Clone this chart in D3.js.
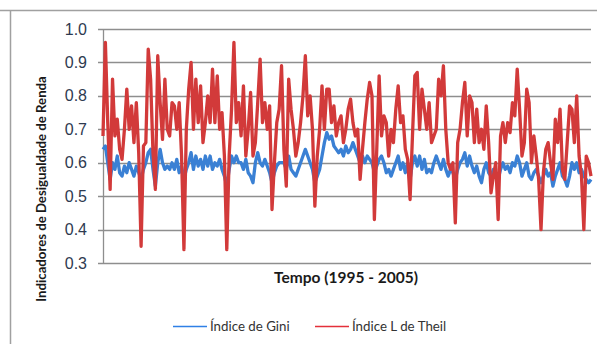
<!DOCTYPE html>
<html>
<head>
<meta charset="utf-8">
<script src="https://cdn.jsdelivr.net/npm/d3@7"></script>
<style>
  body { margin: 0; background: #fff; }
  svg { display: block; font-family: Lato, "Open Sans", sans-serif; }
</style>
</head>
<body>
<div id="chart"></div>
<script>
// Índice L de Theil (1995 - 2005)
const theil = [
  0.68,0.96,0.72,0.52,0.85,0.68,0.73,0.64,0.61,0.70,
  0.82,0.70,0.77,0.66,0.78,0.63,0.35,0.65,0.66,0.94,
  0.85,0.63,0.52,0.92,0.78,0.67,0.85,0.70,0.68,0.78,
  0.77,0.70,0.78,0.62,0.34,0.70,0.82,0.90,0.70,0.85,
  0.72,0.83,0.66,0.72,0.80,0.72,0.88,0.72,0.86,0.70,
  0.75,0.62,0.34,0.62,0.76,0.96,0.72,0.78,0.68,0.83,
  0.62,0.70,0.81,0.62,0.66,0.78,0.91,0.72,0.78,0.70,
  0.77,0.46,0.60,0.72,0.76,0.89,0.64,0.53,0.85,0.76,
  0.70,0.62,0.66,0.72,0.80,0.92,0.74,0.80,0.70,0.47,
  0.62,0.70,0.83,0.70,0.82,0.82,0.72,0.77,0.68,0.72,
  0.74,0.66,0.70,0.76,0.79,0.72,0.68,0.70,0.55,0.64,
  0.72,0.79,0.84,0.80,0.43,0.64,0.86,0.68,0.74,0.72,
  0.62,0.70,0.66,0.76,0.83,0.72,0.74,0.64,0.61,0.49,
  0.68,0.86,0.87,0.70,0.82,0.76,0.70,0.78,0.66,0.68,
  0.70,0.85,0.80,0.89,0.70,0.60,0.58,0.60,0.42,0.66,
  0.70,0.78,0.84,0.68,0.80,0.78,0.66,0.76,0.66,0.70,
  0.64,0.77,0.66,0.51,0.56,0.60,0.43,0.68,0.72,0.66,
  0.72,0.69,0.78,0.74,0.88,0.76,0.62,0.66,0.82,0.78,
  0.60,0.68,0.62,0.55,0.40,0.57,0.64,0.66,0.60,0.55,
  0.73,0.66,0.76,0.58,0.55,0.66,0.77,0.76,0.66,0.80,
  0.62,0.56,0.40,0.62,0.60,0.56
];

// Índice de Gini, same observations
const gini = [
  0.64,0.65,0.60,0.55,0.60,0.58,0.62,0.57,0.56,0.59,
  0.57,0.60,0.58,0.56,0.59,0.57,0.55,0.58,0.60,0.63,
  0.64,0.58,0.53,0.60,0.64,0.60,0.58,0.59,0.58,0.60,
  0.58,0.61,0.57,0.59,0.55,0.58,0.60,0.63,0.58,0.62,
  0.59,0.61,0.58,0.62,0.59,0.62,0.58,0.60,0.59,0.61,
  0.58,0.56,0.53,0.58,0.62,0.60,0.62,0.60,0.60,0.58,
  0.61,0.57,0.56,0.54,0.60,0.63,0.60,0.59,0.61,0.59,
  0.57,0.54,0.57,0.59,0.60,0.60,0.60,0.58,0.62,0.58,
  0.57,0.56,0.58,0.60,0.62,0.64,0.62,0.60,0.58,0.54,
  0.56,0.58,0.62,0.66,0.69,0.67,0.68,0.65,0.64,0.63,
  0.64,0.62,0.65,0.63,0.64,0.66,0.64,0.62,0.60,0.62,
  0.60,0.62,0.61,0.60,0.57,0.59,0.61,0.62,0.60,0.57,
  0.58,0.56,0.58,0.60,0.62,0.58,0.60,0.57,0.60,0.55,
  0.60,0.62,0.59,0.62,0.58,0.61,0.57,0.58,0.57,0.60,
  0.62,0.60,0.58,0.61,0.58,0.56,0.58,0.57,0.55,0.58,
  0.60,0.61,0.63,0.59,0.62,0.59,0.57,0.59,0.56,0.54,
  0.58,0.60,0.57,0.56,0.58,0.56,0.55,0.58,0.60,0.58,
  0.59,0.57,0.60,0.59,0.62,0.60,0.56,0.58,0.60,0.56,
  0.55,0.57,0.58,0.56,0.54,0.56,0.58,0.56,0.57,0.53,
  0.56,0.58,0.60,0.56,0.55,0.53,0.56,0.60,0.58,0.60,
  0.57,0.58,0.56,0.55,0.54,0.55
];

const yTicks = [0.3, 0.4, 0.5, 0.6, 0.7, 0.8, 0.9, 1.0];
const seriesNames = ["Índice de Gini", "Índice L de Theil"];
const seriesColors = ["#3a80d4", "#d23a3a"];
const legendColors = ["#2f80e6", "#e4303a"];

const width = 597, height = 344;
const margin = { top: 29, right: 6, bottom: 81, left: 103 };

const svg = d3.select("#chart").append("svg")
  .attr("width", width)
  .attr("height", height);

// outer frame pieces
svg.append("line").attr("x1", 0).attr("x2", width).attr("y1", 10.5).attr("y2", 10.5)
  .attr("stroke", "#a0a0a0").attr("stroke-width", 1.5);
svg.append("line").attr("x1", 10.5).attr("x2", 10.5).attr("y1", 10).attr("y2", height)
  .attr("stroke", "#a0a0a0").attr("stroke-width", 1.5);

const x = d3.scaleLinear()
  .domain([0, theil.length - 1])
  .range([margin.left, width - margin.right]);

const y = d3.scaleLinear()
  .domain([0.3, 1.0])
  .range([height - margin.bottom, margin.top]);

// gridlines
svg.append("g")
  .selectAll("line")
  .data(yTicks)
  .join("line")
    .attr("x1", margin.left - 5)
    .attr("x2", width - margin.right)
    .attr("y1", d => Math.round(y(d)) + 0.5)
    .attr("y2", d => Math.round(y(d)) + 0.5)
    .attr("stroke", "#8e8e8e")
    .attr("stroke-width", 1.3);

// y axis
const yAxis = svg.append("g")
  .attr("transform", `translate(${margin.left},0)`)
  .call(d3.axisLeft(y).tickValues(yTicks).tickFormat(d3.format(".1f")).tickSize(0).tickPadding(16));
yAxis.select(".domain").attr("stroke", "#8e8e8e").attr("stroke-width", 1.3);
yAxis.selectAll("text")
  .attr("font-size", 16)
  .attr("fill", "#2e3a50");

// series
const line = d3.line()
  .x((d, i) => x(i))
  .y(d => y(d));

[gini, theil].forEach((s, k) => {
  svg.append("path")
    .datum(s)
    .attr("fill", "none")
    .attr("stroke", seriesColors[k])
    .attr("stroke-width", 3.3)
    .attr("stroke-linejoin", "round")
    .attr("d", line);
});

// axis titles
svg.append("text")
  .attr("x", 346)
  .attr("y", 283)
  .attr("text-anchor", "middle")
  .attr("font-size", 15.5)
  .attr("font-weight", "bold")
  .attr("fill", "#1a1a1a")
  .text("Tempo (1995 - 2005)");

svg.append("text")
  .attr("transform", "translate(46,189) rotate(-90)")
  .attr("text-anchor", "middle")
  .attr("font-size", 13.2)
  .attr("font-weight", "bold")
  .attr("fill", "#1a1a1a")
  .text("Indicadores de Desigualdade de Renda");

// legend
const legendX = [173, 315];
const legend = svg.append("g");
seriesNames.forEach((name, k) => {
  legend.append("line")
    .attr("x1", legendX[k]).attr("x2", legendX[k] + 34)
    .attr("y1", 326.5).attr("y2", 326.5)
    .attr("stroke", legendColors[k])
    .attr("stroke-width", 1.5);
  legend.append("text")
    .attr("x", legendX[k] + 37)
    .attr("y", 331)
    .attr("font-size", 13.3)
    .attr("fill", "#333")
    .text(name);
});
</script>
</body>
</html>
